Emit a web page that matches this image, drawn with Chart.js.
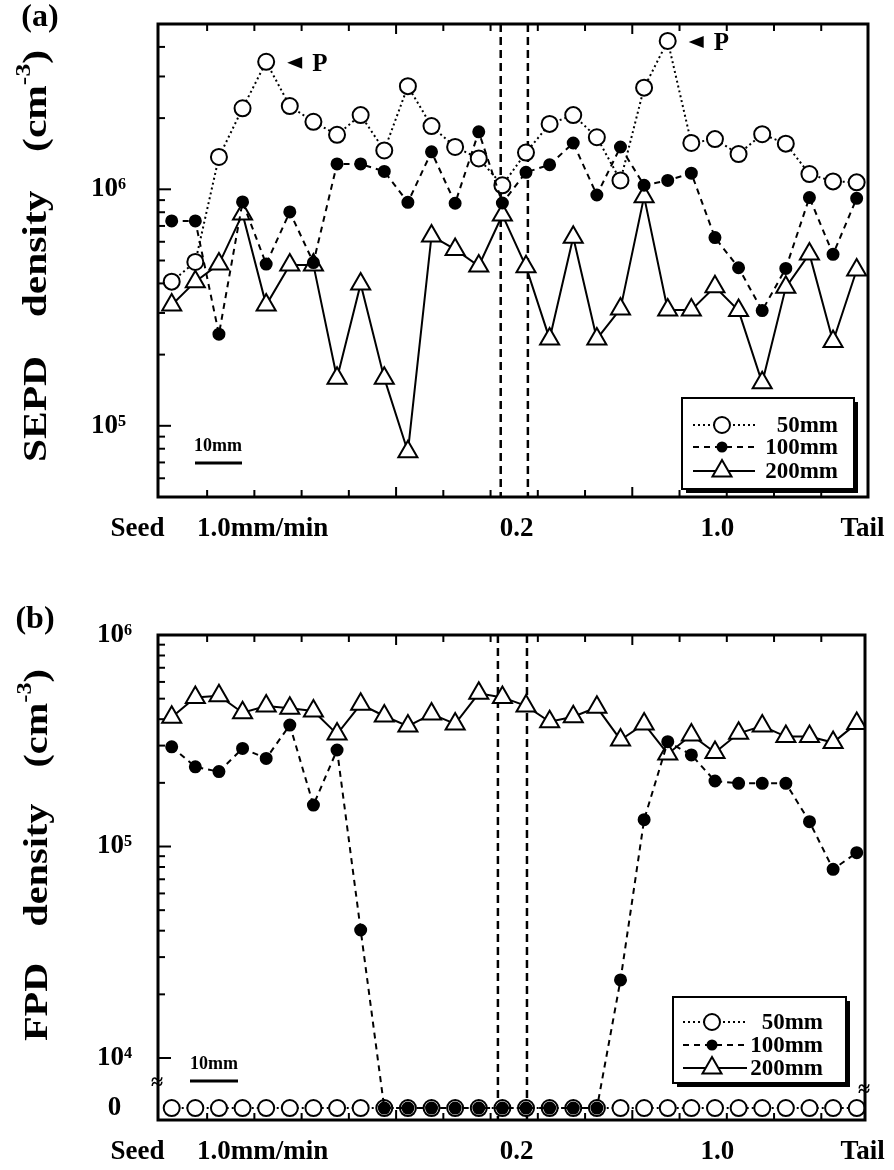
<!DOCTYPE html>
<html>
<head>
<meta charset="utf-8">
<script src="https://cdn.jsdelivr.net/npm/chart.js@4.4.0/dist/chart.umd.min.js"></script>
<style>
  body { margin: 0; background: #fff; }
  #quadro { position: relative; width: 894px; height: 1170px; }
  .painel { position: absolute; left: 0; width: 894px; }
  #painel-a { top: 0; height: 560px; }
  #painel-b { top: 590px; height: 580px; }
</style>
</head>
<body>
<div id="quadro">
  <div class="painel" id="painel-a"><canvas id="graficoA"></canvas></div>
  <div class="painel" id="painel-b"><canvas id="graficoB"></canvas></div>
</div>
<script>
// Posição das amostras ao longo do cristal (índice da amostra)
const amostras = [0, 1, 2, 3, 4, 5, 6, 7, 8, 9, 10, 11, 12, 13, 14,
                  15, 16, 17, 18, 19, 20, 21, 22, 23, 24, 25, 26, 27, 28, 29];

const series = ['50mm', '100mm', '200mm'];

// (a) densidade SEPD (cm^-3)
const sepd50 = [4.07e5, 4.93e5, 1.37e6, 2.2e6, 3.46e6, 2.25e6, 1.93e6, 1.70e6, 2.06e6, 1.46e6,
                2.73e6, 1.85e6, 1.51e6, 1.35e6, 1.04e6, 1.43e6, 1.89e6, 2.06e6, 1.66e6, 1.09e6,
                2.69e6, 4.24e6, 1.57e6, 1.63e6, 1.41e6, 1.71e6, 1.56e6, 1.16e6, 1.08e6, 1.07e6];
const sepd100 = [7.35e5, 7.35e5, 2.44e5, 8.84e5, 4.83e5, 8.02e5, 4.9e5, 1.28e6, 1.28e6, 1.19e6,
                 8.81e5, 1.44e6, 8.73e5, 1.75e6, 8.75e5, 1.18e6, 1.27e6, 1.57e6, 9.46e5, 1.51e6,
                 1.04e6, 1.09e6, 1.17e6, 6.25e5, 4.66e5, 3.07e5, 4.63e5, 9.23e5, 5.31e5, 9.16e5];
const sepd200 = [3.24e5, 4.07e5, 4.83e5, 7.87e5, 3.24e5, 4.79e5, 4.79e5, 1.59e5, 3.98e5, 1.59e5,
                 7.77e4, 6.35e5, 5.57e5, 4.74e5, 7.79e5, 4.71e5, 2.33e5, 6.27e5, 2.33e5, 3.12e5,
                 9.31e5, 3.09e5, 3.09e5, 3.87e5, 3.07e5, 1.52e5, 3.85e5, 5.33e5, 2.27e5, 4.56e5];

// (b) densidade FPD (cm^-3); 0 = não detectado
const fpd50 = [0, 0, 0, 0, 0, 0, 0, 0, 0, 0, 0, 0, 0, 0, 0,
               0, 0, 0, 0, 0, 0, 0, 0, 0, 0, 0, 0, 0, 0, 0];
const fpd100 = [2.96e5, 2.38e5, 2.26e5, 2.91e5, 2.61e5, 3.75e5, 1.57e5, 2.86e5, 4.03e4, 0,
                0, 0, 0, 0, 0, 0, 0, 0, 0, 2.34e4,
                1.34e5, 3.13e5, 2.71e5, 2.04e5, 1.99e5, 1.99e5, 1.99e5, 1.31e5, 7.8e4, 9.35e4];
const fpd200 = [4.08e5, 5.07e5, 5.16e5, 4.29e5, 4.62e5, 4.5e5, 4.37e5, 3.4e5, 4.7e5, 4.14e5,
                3.71e5, 4.23e5, 3.8e5, 5.3e5, 5.07e5, 4.62e5, 3.89e5, 4.11e5, 4.55e5, 3.19e5,
                3.8e5, 2.74e5, 3.37e5, 2.78e5, 3.43e5, 3.71e5, 3.31e5, 3.31e5, 3.1e5, 3.82e5];

// Eixo x: rótulos e posições (em unidades de amostra)
const rotulosX = ['Seed', '1.0mm/min', '0.2', '1.0', 'Tail'];
const posRotulosX = [-1.45, 3.85, 14.6, 23.1, 29.25];
const marcasX = [1.5, 3.5, 5.5, 7.5, 9.5, 11.5, 13.5, 15.5, 17.5, 19.5, 21.5, 23.5, 25.5, 27.5];
const marcasXMaiores = [9.5, 19.5];

// Eixo y (a)
const marcasYA = [6e4, 7e4, 8e4, 9e4, 1e5, 2e5, 3e5, 4e5, 5e5, 6e5, 7e5, 8e5, 9e5, 1e6, 2e6, 3e6, 4e6];
const valoresRotulosYA = [1e5, 1e6];
const rotulosYA = ['10⁵', '10⁶'];

// Eixo y (b) — o "0" fica numa linha abaixo da quebra do eixo
const NIVEL_ZERO = 5800;
const marcasYB = [1e4, 2e4, 3e4, 4e4, 5e4, 6e4, 7e4, 8e4, 9e4, 1e5, 2e5, 3e5, 4e5, 5e5, 6e5, 7e5, 8e5, 9e5, 1e6];
const valoresRotulosYB = [NIVEL_ZERO, 1e4, 1e5, 1e6];
const rotulosYB = ['0', '10⁴', '10⁵', '10⁶'];

const FONTE = "'Liberation Serif', 'Times New Roman', serif";
Chart.defaults.font.family = FONTE;
Chart.defaults.color = '#000';

const estilos = [
    { borderDash: [2, 3], pointStyle: 'circle', pointRadius: 8, pointBackgroundColor: '#fff', order: 1, marcador: 'aberto' },
    { borderDash: [6, 5], pointStyle: 'circle', pointRadius: 5.5, pointBackgroundColor: '#000', order: 0, marcador: 'cheio' },
    { borderDash: [], pointStyle: 'triangle', pointRadius: 11, pointBackgroundColor: '#fff', order: 2, marcador: 'triangulo' }
];

function montarDatasets(valores) {
    return valores.map((serie, k) => ({
        label: series[k],
        data: amostras.map((x, i) => ({ x: x, y: serie[i] === 0 ? NIVEL_ZERO : serie[i] })),
        borderColor: '#000',
        borderWidth: 2,
        borderDash: estilos[k].borderDash,
        pointStyle: estilos[k].pointStyle,
        pointRadius: estilos[k].pointRadius,
        pointBackgroundColor: estilos[k].pointBackgroundColor,
        pointBorderColor: '#000',
        pointBorderWidth: 2,
        order: estilos[k].order,
        fill: false,
        tension: 0
    }));
}

function desenharMarcador(ctx, tipo, x, y) {
    ctx.save();
    ctx.setLineDash([]);
    ctx.lineWidth = 2;
    ctx.strokeStyle = '#000';
    ctx.beginPath();
    if (tipo === 'aberto') {
        ctx.arc(x, y, 8, 0, 2 * Math.PI);
        ctx.fillStyle = '#fff';
        ctx.fill();
        ctx.stroke();
    } else if (tipo === 'cheio') {
        ctx.arc(x, y, 5.5, 0, 2 * Math.PI);
        ctx.fillStyle = '#000';
        ctx.fill();
    } else {
        const r = 11;
        ctx.moveTo(x, y - r);
        ctx.lineTo(x + r * 0.866, y + r / 2);
        ctx.lineTo(x - r * 0.866, y + r / 2);
        ctx.closePath();
        ctx.fillStyle = '#fff';
        ctx.fill();
        ctx.stroke();
    }
    ctx.restore();
}

// Título vertical: letras um pouco alargadas, sobra distribuída nos espaços
function tituloVertical(ctx, partes, cx, cy, comp, tam, esticar) {
    ctx.save();
    ctx.translate(cx, cy);
    ctx.rotate(-Math.PI / 2);
    ctx.fillStyle = '#000';
    ctx.textBaseline = 'middle';
    ctx.textAlign = 'left';
    const pecas = [];
    partes.forEach((p, i) => {
        const sup = i === 1;
        const f = `bold ${sup ? Math.round(tam * 0.62) : tam}px ${FONTE}`;
        ctx.font = f;
        for (const c of p) pecas.push({ c, f, w: ctx.measureText(c).width, dy: sup ? -tam * 0.38 : 0 });
    });
    const natural = pecas.reduce((s, p) => s + p.w, 0) * esticar;
    const nEsp = pecas.filter(p => p.c === ' ').length;
    const extra = nEsp ? Math.max(0, (comp - natural) / nEsp) : 0;
    let x = -comp / 2;
    pecas.forEach(p => {
        ctx.save();
        ctx.font = p.f;
        ctx.translate(x, p.dy);
        ctx.scale(esticar, 1);
        ctx.fillText(p.c, 0, 0);
        ctx.restore();
        x += p.w * esticar + (p.c === ' ' ? extra : 0);
    });
    ctx.restore();
}

// Os rótulos podem sair da área do gráfico sem empurrar o layout
function semPaddingDeEixo(s) {
    s.paddingTop = 0;
    s.paddingBottom = 0;
    s.paddingLeft = 0;
    s.paddingRight = 0;
}

// Plugin com moldura, marcas internas, divisórias, legenda e anotações
function criarDecoracao(cfg) {
    return {
        id: 'decoracao',
        beforeDatasetsDraw(chart) {
            const ctx = chart.ctx;
            const a = chart.chartArea;
            const xs = chart.scales.x;
            ctx.save();
            ctx.strokeStyle = '#000';
            ctx.lineWidth = 2.5;
            ctx.setLineDash([8, 5]);
            cfg.divisorias.forEach(v => {
                const px = xs.getPixelForValue(v);
                ctx.beginPath();
                ctx.moveTo(px, a.top);
                ctx.lineTo(px, a.bottom);
                ctx.stroke();
            });
            ctx.restore();
        },
        afterDraw(chart) {
            const ctx = chart.ctx;
            const a = chart.chartArea;
            const xs = chart.scales.x;
            const ys = chart.scales.y;
            const oy = cfg.topo;
            ctx.save();
            ctx.strokeStyle = '#000';
            ctx.fillStyle = '#000';
            ctx.setLineDash([]);

            // moldura
            ctx.lineWidth = 3;
            ctx.strokeRect(a.left, a.top, a.right - a.left, a.bottom - a.top);

            // marcas internas
            ctx.lineWidth = 2;
            cfg.marcasY.forEach(v => {
                const py = ys.getPixelForValue(v);
                const len = cfg.maioresY.includes(v) ? 13 : 7;
                ctx.beginPath();
                ctx.moveTo(a.left, py);
                ctx.lineTo(a.left + len, py);
                ctx.stroke();
            });
            marcasX.forEach(v => {
                const px = xs.getPixelForValue(v);
                const len = marcasXMaiores.includes(v) ? 10 : 7;
                ctx.beginPath();
                ctx.moveTo(px, a.top);
                ctx.lineTo(px, a.top + len);
                ctx.moveTo(px, a.bottom);
                ctx.lineTo(px, a.bottom - len);
                ctx.stroke();
            });

            // quebras do eixo
            ctx.font = `bold 22px ${FONTE}`;
            ctx.textAlign = 'center';
            ctx.textBaseline = 'middle';
            cfg.quebras.forEach(q => ctx.fillText('≈', q[0], q[1] - oy));

            // barra de escala 10mm
            const e = cfg.escala;
            ctx.font = `bold 18px ${FONTE}`;
            ctx.fillText('10mm', e.texto[0], e.texto[1] - oy);
            ctx.lineWidth = 3;
            ctx.beginPath();
            ctx.moveTo(e.barra[0], e.barra[2] - oy);
            ctx.lineTo(e.barra[1], e.barra[2] - oy);
            ctx.stroke();

            // picos "P"
            cfg.picos.forEach(i => {
                const px = xs.getPixelForValue(amostras[i]);
                const py = ys.getPixelForValue(cfg.seriePicos[i]);
                ctx.beginPath();
                ctx.moveTo(px + 21, py + 1);
                ctx.lineTo(px + 36, py - 5);
                ctx.lineTo(px + 36, py + 7);
                ctx.closePath();
                ctx.fill();
                ctx.font = `bold 25px ${FONTE}`;
                ctx.textAlign = 'left';
                ctx.fillText('P', px + 46, py + 3);
            });

            // legenda
            const L = cfg.legenda;
            ctx.fillStyle = '#000';
            ctx.fillRect(L.x + 4, L.y - oy + 4, L.w, L.h);
            ctx.fillStyle = '#fff';
            ctx.fillRect(L.x, L.y - oy, L.w, L.h);
            ctx.lineWidth = 2;
            ctx.strokeRect(L.x, L.y - oy, L.w, L.h);
            series.forEach((nome, k) => {
                const ly = L.linhas[k] - oy;
                ctx.save();
                ctx.lineWidth = 2;
                ctx.setLineDash(estilos[k].borderDash);
                ctx.beginPath();
                ctx.moveTo(L.l0, ly);
                ctx.lineTo(L.l1, ly);
                ctx.stroke();
                ctx.restore();
                desenharMarcador(ctx, estilos[k].marcador, L.marcador, ly);
                ctx.fillStyle = '#000';
                ctx.font = `bold 23px ${FONTE}`;
                ctx.textAlign = 'right';
                ctx.textBaseline = 'middle';
                ctx.fillText(nome, L.textoDir, ly + 1);
            });

            // rótulo do painel
            ctx.font = `bold 32px ${FONTE}`;
            ctx.textAlign = 'center';
            ctx.fillText(cfg.rotulo, cfg.rotuloPos[0], cfg.rotuloPos[1] - oy);

            ctx.restore();

            // título vertical
            tituloVertical(ctx, cfg.titulo, cfg.tituloPos[0], cfg.tituloPos[1] - oy,
                           cfg.tituloComp, cfg.tituloFonte, 1.22);
        }
    };
}

function criarGrafico(id, valores, eixo, decor) {
    const ctx = document.getElementById(id).getContext('2d');
    return new Chart(ctx, {
        type: 'line',
        data: { datasets: montarDatasets(valores) },
        options: {
            responsive: true,
            maintainAspectRatio: false,
            animation: false,
            devicePixelRatio: 1,
            events: [],
            layout: { padding: eixo.padding, autoPadding: false },
            plugins: { legend: { display: false }, tooltip: { enabled: false } },
            scales: {
                x: {
                    type: 'linear',
                    min: eixo.xMin,
                    max: eixo.xMax,
                    afterBuildTicks: s => { s.ticks = posRotulosX.map(v => ({ value: v })); },
                    afterFit: s => { s.height = eixo.alturaX; semPaddingDeEixo(s); },
                    grid: { display: false, drawTicks: false },
                    border: { display: false },
                    ticks: {
                        autoSkip: false,
                        maxRotation: 0,
                        padding: 16,
                        color: '#000',
                        font: { size: 27, weight: 'bold' },
                        callback: (v, i) => rotulosX[i]
                    }
                },
                y: {
                    type: 'logarithmic',
                    min: eixo.yMin,
                    max: eixo.yMax,
                    afterBuildTicks: s => { s.ticks = eixo.ticksY.map(v => ({ value: v })); },
                    afterFit: s => { s.width = 158; semPaddingDeEixo(s); },
                    grid: { display: false, drawTicks: false },
                    border: { display: false },
                    ticks: {
                        autoSkip: false,
                        padding: eixo.paddingY,
                        crossAlign: eixo.alinhamentoY,
                        color: '#000',
                        font: { size: 27, weight: 'bold' },
                        callback: v => {
                            const i = eixo.valoresRotulos.indexOf(v);
                            return i >= 0 ? eixo.rotulos[i] : '';
                        }
                    }
                }
            }
        },
        plugins: [criarDecoracao(decor)]
    });
}

document.addEventListener('DOMContentLoaded', () => {
    criarGrafico('graficoA', [sepd50, sepd100, sepd200], {
        padding: { top: 24, right: 26, left: 0, bottom: 0 },
        xMin: -0.58, xMax: 29.48, alturaX: 63,
        yMin: 5e4, yMax: 5e6,
        ticksY: marcasYA,
        valoresRotulos: valoresRotulosYA, rotulos: rotulosYA,
        paddingY: 32, alinhamentoY: 'near'
    }, {
        topo: 0,
        rotulo: '(a)', rotuloPos: [40, 18],
        titulo: ['SEPD density (cm', '-3', ')'], tituloPos: [37, 256], tituloComp: 412, tituloFonte: 34,
        divisorias: [13.93, 15.08],
        marcasY: marcasYA, maioresY: [1e5, 1e6],
        legenda: { x: 682, y: 398, w: 172, h: 91, linhas: [425, 447, 471], l0: 693, l1: 755, marcador: 722, textoDir: 838 },
        escala: { texto: [218, 446], barra: [195, 242, 463] },
        picos: [4, 21], seriePicos: sepd50,
        quebras: []
    });

    criarGrafico('graficoB', [fpd50, fpd100, fpd200], {
        padding: { top: 45, right: 29, left: 0, bottom: 0 },
        xMin: -0.58, xMax: 29.35, alturaX: 50,
        yMin: 5093, yMax: 1e6,
        ticksY: [NIVEL_ZERO].concat(marcasYB),
        valoresRotulos: valoresRotulosYB, rotulos: rotulosYB,
        paddingY: 26, alinhamentoY: 'center'
    }, {
        topo: 590,
        rotulo: '(b)', rotuloPos: [35, 620],
        titulo: ['FPD density (cm', '-3', ')'], tituloPos: [38, 855], tituloComp: 372, tituloFonte: 33,
        divisorias: [13.81, 15.04],
        marcasY: marcasYB.filter(v => v !== 1e6), maioresY: [1e4, 1e5],
        legenda: { x: 673, y: 997, w: 173, h: 86, linhas: [1022, 1045, 1068], l0: 683, l1: 747, marcador: 712, textoDir: 823 },
        escala: { texto: [214, 1064], barra: [190, 238, 1081] },
        picos: [], seriePicos: fpd50,
        quebras: [[157, 1083], [864, 1090]]
    });
});
</script>
</body>
</html>
